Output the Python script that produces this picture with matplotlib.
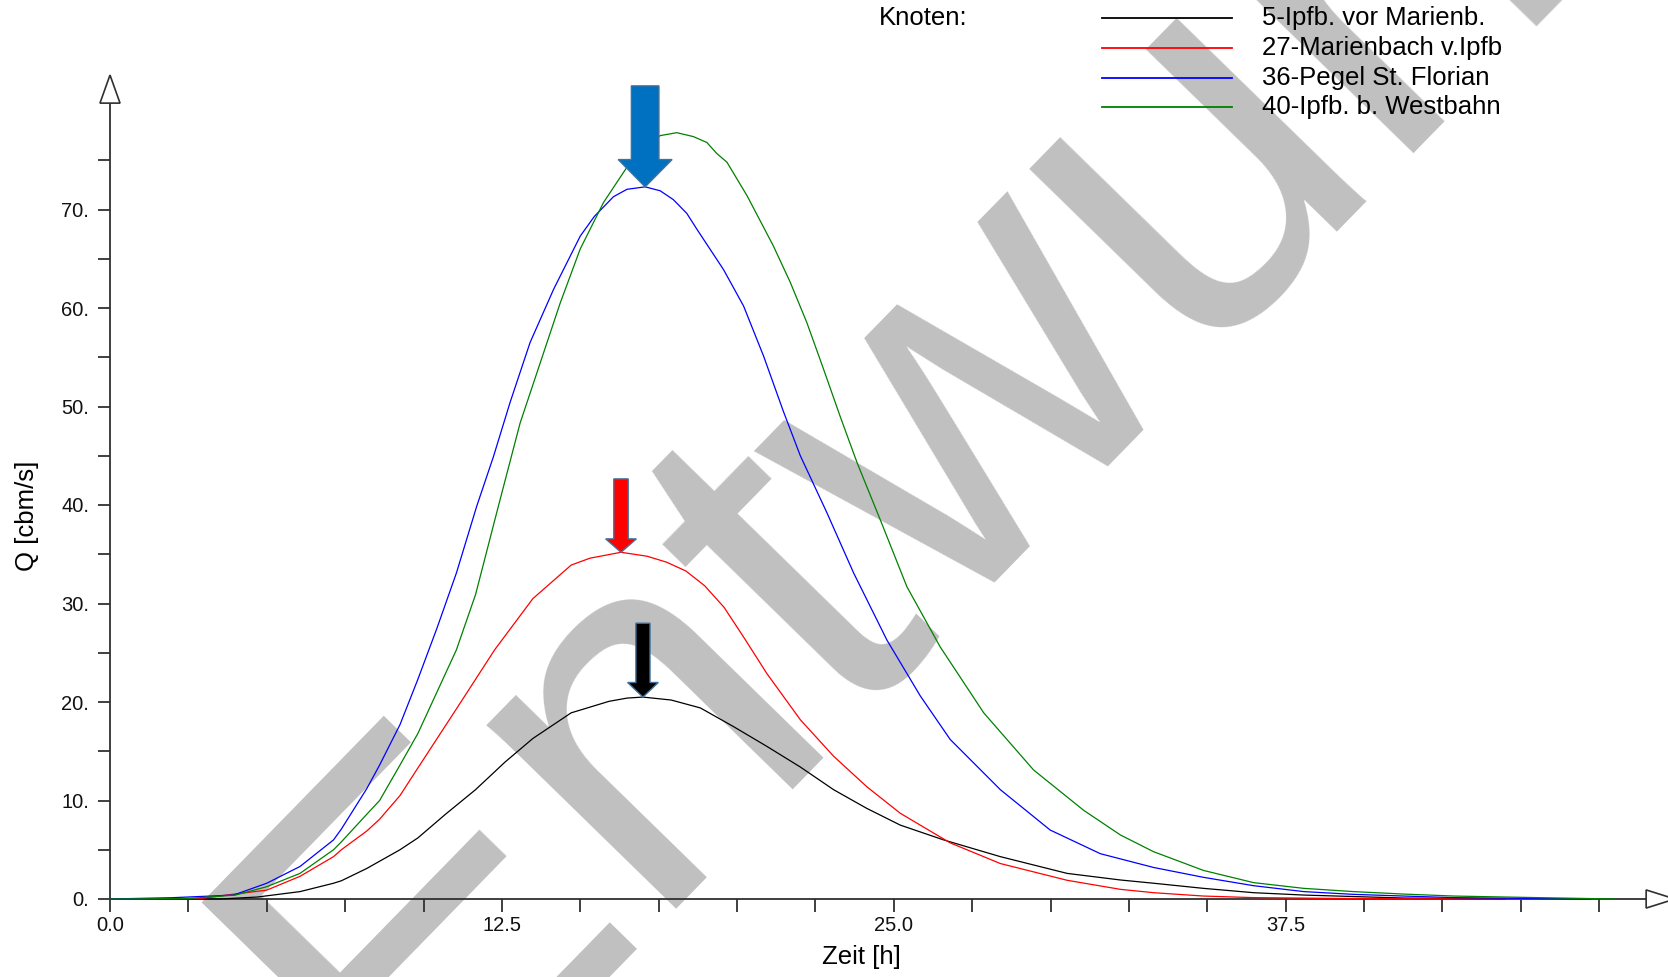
import matplotlib
matplotlib.use('Agg')
import matplotlib.pyplot as plt
from matplotlib.patches import Polygon, FancyArrow
from matplotlib.lines import Line2D

plt.rcParams['font.family'] = ['Liberation Sans', 'DejaVu Sans']

# ---------------- data ----------------
series_names = ['5-Ipfb. vor Marienb.', '27-Marienbach v.Ipfb',
                '36-Pegel St. Florian', '40-Ipfb. b. Westbahn']
series_colors = ['#000000', '#FF0000', '#0000FF', '#008000']

h_black = [0, 3.5, 4.7, 6.06, 7.13, 7.38, 8.19, 9.25, 9.82, 10.7, 11.66, 12.6,
           13.49, 14.71, 15.92, 16.5, 17.0, 17.9, 18.83, 19.89, 20.95, 22.02,
           23.08, 24.14, 25.21, 26.59, 28.4, 30.53, 32.23, 33.29, 34.88, 36.48,
           38.08, 39.67, 41.27, 43.0, 44.5]
q_black = [0, 0, 0.2, 0.75, 1.6, 1.85, 3.1, 5.0, 6.2, 8.6, 11.1, 13.9,
           16.3, 18.9, 20.07, 20.4, 20.5, 20.2, 19.4, 17.5, 15.5, 13.4,
           11.1, 9.2, 7.5, 6.0, 4.3, 2.6, 1.93, 1.6, 1.08, 0.64,
           0.4, 0.25, 0.1, 0.05, 0]

h_red = [0, 2.9, 3.72, 5.0, 6.06, 7.13, 7.38, 8.19, 8.6, 9.25, 9.82, 11.05,
         12.27, 13.49, 14.71, 15.31, 16.3, 17.13, 17.75, 18.37, 18.97, 19.59,
         20.25, 20.95, 22.02, 23.08, 24.14, 25.21, 26.8, 28.4, 30.53, 32.23,
         33.29, 34.88, 36.48, 38.7, 41.0, 45.6]
q_red = [0, 0.05, 0.4, 0.9, 2.3, 4.3, 5.0, 6.9, 8.1, 10.5, 13.3, 19.3,
         25.3, 30.5, 33.9, 34.6, 35.2, 34.8, 34.2, 33.3, 31.8, 29.6,
         26.4, 22.9, 18.2, 14.5, 11.4, 8.7, 5.7, 3.6, 1.9, 0.98,
         0.64, 0.3, 0.14, 0.07, 0.03, 0]

h_blue = [0, 1.97, 3.94, 5.0, 6.06, 7.13, 7.38, 8.19, 8.6, 9.25, 9.82, 10.43,
          11.05, 11.7, 12.23, 12.76, 13.4, 14.15, 15.0, 15.45, 16.06, 16.49,
          17.07, 17.55, 17.97, 18.4, 18.72, 19.57, 20.21, 20.85, 21.48, 22.02,
          22.87, 23.72, 24.78, 25.85, 26.8, 28.4, 29.99, 31.59, 33.29, 34.88,
          36.48, 38.08, 39.67, 41.27, 42.86, 45.52, 47.2]
q_blue = [0, 0.13, 0.4, 1.6, 3.3, 6.0, 7.1, 11.2, 13.6, 17.7, 22.3, 27.5,
          33.1, 39.9, 44.9, 50.4, 56.5, 61.9, 67.3, 69.3, 71.3, 72.05,
          72.3, 71.9, 71.0, 69.6, 68.0, 63.9, 60.2, 55.1, 49.5, 45.0,
          39.2, 33.1, 26.3, 20.6, 16.2, 11.1, 7.0, 4.6, 3.2, 2.2,
          1.35, 0.75, 0.47, 0.3, 0.14, 0.05, 0]

h_green = [0, 2.5, 4.0, 5.0, 6.06, 7.13, 7.38, 8.19, 8.6, 9.25, 9.82, 11.05,
           11.66, 12.39, 13.08, 13.72, 14.36, 15.0, 15.74, 16.49, 16.91, 17.55,
           18.08, 18.61, 19.04, 19.35, 19.68, 20.32, 21.16, 21.7, 22.23, 22.76,
           23.29, 23.83, 24.57, 25.42, 26.48, 27.87, 29.46, 31.06, 32.23, 33.29,
           34.88, 36.48, 38.08, 39.67, 41.27, 42.86, 45.52, 48.0]
q_green = [0, 0.05, 0.4, 1.25, 2.6, 5.0, 5.8, 8.6, 10.0, 13.6, 16.8, 25.3,
           30.9, 39.9, 48.3, 54.4, 60.5, 66.0, 70.7, 74.3, 76.0, 77.5,
           77.8, 77.4, 76.8, 75.7, 74.8, 71.4, 66.3, 62.6, 58.5, 53.8,
           49.0, 44.3, 38.5, 31.7, 25.6, 18.9, 13.1, 9.0, 6.5, 4.8,
           2.9, 1.66, 1.08, 0.75, 0.5, 0.3, 0.14, 0]

series_h = [h_black, h_red, h_blue, h_green]
series_q = [q_black, q_red, q_blue, q_green]

x_major = [0.0, 12.5, 25.0, 37.5]
x_major_labels = ['0.0', '12.5', '25.0', '37.5']
x_minor = [2.5, 5.0, 7.5, 10.0, 15.0, 17.5, 20.0, 22.5, 27.5, 30.0, 32.5, 35.0,
           40.0, 42.5, 45.0, 47.5]
y_major = [0, 10, 20, 30, 40, 50, 60, 70]
y_major_labels = ['0.', '10.', '20.', '30.', '40.', '50.', '60.', '70.']
y_minor = [5, 15, 25, 35, 45, 55, 65, 75]

legend_title = 'Knoten:'
x_label = 'Zeit [h]'
y_label = 'Q [cbm/s]'
watermark = 'Entwurf'

# peaks marked with arrows (black, red, blue series)
arrow_series = [0, 1, 2]
arrow_fill = ['#000000', '#FF0000', '#0070C0']

# ---------------- figure ----------------
W, H = 1668, 977
fig = plt.figure(figsize=(W / 100, H / 100), dpi=100)
fig.patch.set_facecolor('white')

x0_px, y0_px = 110, 899
px_per_h, px_per_q = 31.35, 9.85
xmax, ymax = 49.0, 80.8
ax = fig.add_axes([x0_px / W, (H - y0_px) / H,
                   xmax * px_per_h / W, ymax * px_per_q / H])
ax.patch.set_visible(False)
ax.set_xlim(0, xmax)
ax.set_ylim(0, ymax)

axis_col = '#303030'
for s in ['top', 'right']:
    ax.spines[s].set_visible(False)
for s in ['left', 'bottom']:
    ax.spines[s].set_color(axis_col)
    ax.spines[s].set_linewidth(1.3)

ax.set_xticks(x_major)
ax.set_xticklabels(x_major_labels)
ax.set_xticks(x_minor, minor=True)
ax.set_yticks(y_major)
ax.set_yticklabels(y_major_labels)
ax.set_yticks(y_minor, minor=True)
ax.tick_params(axis='both', which='both', direction='out', length=9,
               width=1.3, color=axis_col, labelsize=14.5, labelcolor='#111111')
ax.tick_params(axis='x', which='major', pad=3)
ax.tick_params(axis='y', which='major', pad=6)

# axis arrow heads
ya = Polygon([(-0.32, ymax), (0.32, ymax), (0, ymax + 2.85)], closed=True,
             facecolor='white', edgecolor=axis_col, lw=1.2, clip_on=False, zorder=5)
xa = Polygon([(xmax, -0.92), (xmax, 0.92), (xmax + 0.92, 0)], closed=True,
             facecolor='white', edgecolor=axis_col, lw=1.2, clip_on=False, zorder=5)
ax.add_patch(ya)
ax.add_patch(xa)

# curves
for h, q, c in zip(series_h, series_q, series_colors):
    ax.plot(h, q, color=c, lw=0.9, zorder=3, clip_on=False)

# peak arrows
shaft_w = [0.45, 0.46, 0.88]
head_w = [0.98, 0.98, 1.72]
head_l = [1.48, 1.36, 2.77]
length = [7.5, 7.45, 10.25]
for k, i in enumerate(arrow_series):
    q = series_q[i]
    j = q.index(max(q))
    tip_x, tip_y = series_h[i][j], q[j]
    arr = FancyArrow(tip_x, tip_y + length[k], 0, -length[k], width=shaft_w[k],
                     head_width=head_w[k], head_length=head_l[k],
                     length_includes_head=True, facecolor=arrow_fill[k],
                     edgecolor='#41719C', lw=1.0, zorder=6, clip_on=False)
    ax.add_patch(arr)

# axis labels
ax.set_xlabel(x_label, fontsize=18.5)
ax.xaxis.set_label_coords((861.7 - x0_px) / (xmax * px_per_h),
                          (y0_px - 957.4) / (ymax * px_per_q))
ax.xaxis.label.set_va('center')
ax.set_ylabel(y_label, fontsize=18.5)
ax.yaxis.set_label_coords((26.6 - x0_px) / (xmax * px_per_h),
                          (y0_px - 516) / (ymax * px_per_q))
ax.yaxis.label.set_va('center')

# legend (manual layout, as in the original)
fig.text(879 / W, 1 - 18 / H, legend_title, fontsize=18.5, ha='left', va='center')
row_y = [18.3, 48.3, 77.7, 106.7]
for name, c, ry in zip(series_names, series_colors, row_y):
    fig.add_artist(Line2D([1102 / W, 1232 / W], [1 - ry / H, 1 - ry / H],
                          color=c, lw=1.3, transform=fig.transFigure))
    fig.text(1262 / W, 1 - ry / H, name, fontsize=18.5, ha='left', va='center')

# watermark behind everything
fig.text(407 / W, (H - 1143) / H, watermark, fontsize=360, rotation=45.7,
         rotation_mode='anchor', ha='left', va='baseline', color='#C0C0C0',
         family='Liberation Sans', zorder=-5)

fig.savefig('out.png', dpi=100, facecolor='white')
